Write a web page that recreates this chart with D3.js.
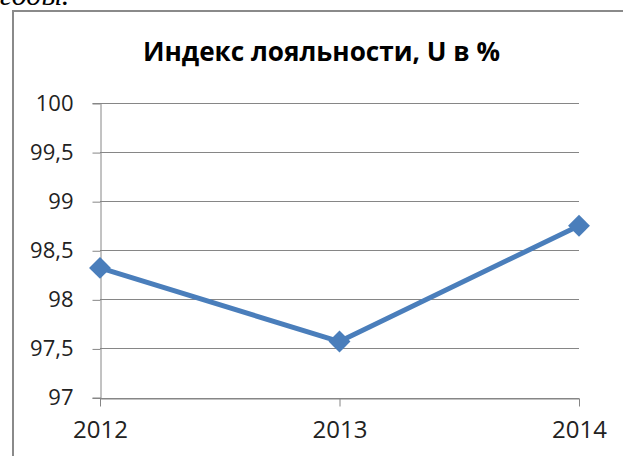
<!DOCTYPE html>
<html>
<head>
<meta charset="utf-8">
<script src="https://cdn.jsdelivr.net/npm/d3@7"></script>
<style>
  body { margin: 0; background: #fff; }
  svg { display: block; }
</style>
</head>
<body>
<svg id="chart"></svg>
<script>
// Data
const years = ["2012", "2013", "2014"];
const loyalty = [98.32, 97.57, 98.75];
const yTicks = [97, 97.5, 98, 98.5, 99, 99.5, 100];
const title = "Индекс лояльности, U в %";

const W = 623, H = 456;
const margin = { top: 103, right: 44, bottom: 58.5, left: 100 };

const svg = d3.select("#chart")
    .attr("width", W)
    .attr("height", H);

// cut-off caption line above the chart
svg.append("text")
    .attr("x", 0)
    .attr("y", 5)
    .attr("font-family", "Liberation Serif")
    .attr("font-style", "italic")
    .attr("font-size", 30)
    .attr("fill", "#000")
    .text("годы.");

// chart frame (left and top edges only visible)
svg.append("path")
    .attr("d", `M13,${H} L13,11 L${W},11`)
    .attr("fill", "none")
    .attr("stroke", "#8a8a8a")
    .attr("stroke-width", 2);

svg.append("text")
    .attr("x", 143)
    .attr("y", 61)
    .attr("font-family", "Open Sans")
    .attr("font-weight", "bold")
    .attr("font-size", 26)
    .attr("textLength", 357)
    .attr("lengthAdjust", "spacingAndGlyphs")
    .attr("fill", "#000")
    .text(title);

const x = d3.scalePoint()
    .domain(years)
    .range([margin.left, W - margin.right]);

const y = d3.scaleLinear()
    .domain([97, 100])
    .range([H - margin.bottom, margin.top]);

const g = svg.append("g");

// gridlines
g.selectAll(".grid")
    .data(yTicks)
    .enter().append("line")
    .attr("x1", margin.left)
    .attr("x2", W - margin.right)
    .attr("y1", d => Math.round(y(d)) + 0.5)
    .attr("y2", d => Math.round(y(d)) + 0.5)
    .attr("stroke", "#868686")
    .attr("stroke-width", 1);

// y axis
const yAxis = d3.axisLeft(y)
    .tickValues(yTicks)
    .tickSize(8)
    .tickPadding(19)
    .tickFormat(d => String(d).replace(".", ","));

g.append("g")
    .attr("transform", `translate(${margin.left + 0.5},0)`)
    .call(yAxis)
    .call(s => s.select(".domain").attr("stroke", "#868686"))
    .call(s => s.selectAll(".tick line").attr("stroke", "#868686")
        .attr("transform", "translate(0,0.5)"))
    .call(s => s.selectAll(".tick text")
        .attr("font-family", "Open Sans")
        .attr("font-size", 22)
        .attr("fill", "#222"));

// x axis
const xAxis = d3.axisBottom(x)
    .tickSize(8)
    .tickPadding(14)
    .tickSizeOuter(0);

g.append("g")
    .attr("transform", `translate(0,${Math.round(y(97)) + 0.5})`)
    .call(xAxis)
    .call(s => s.select(".domain").attr("stroke", "#868686"))
    .call(s => s.selectAll(".tick line").attr("stroke", "#868686"))
    .call(s => s.selectAll(".tick text")
        .attr("font-family", "Open Sans")
        .attr("font-size", 24)
        .attr("fill", "#222"));

// series line
const line = d3.line()
    .x((d, i) => x(years[i]))
    .y(d => y(d));

g.append("path")
    .datum(loyalty)
    .attr("d", line)
    .attr("fill", "none")
    .attr("stroke", "#4a7ebb")
    .attr("stroke-width", 5)
    .attr("stroke-linejoin", "round");

// diamond markers
g.selectAll(".marker")
    .data(loyalty)
    .enter().append("path")
    .attr("d", d3.symbol().type(d3.symbolSquare).size(240))
    .attr("transform", (d, i) => `translate(${x(years[i])},${y(d)}) rotate(45)`)
    .attr("fill", "#4a7ebb");
</script>
</body>
</html>
